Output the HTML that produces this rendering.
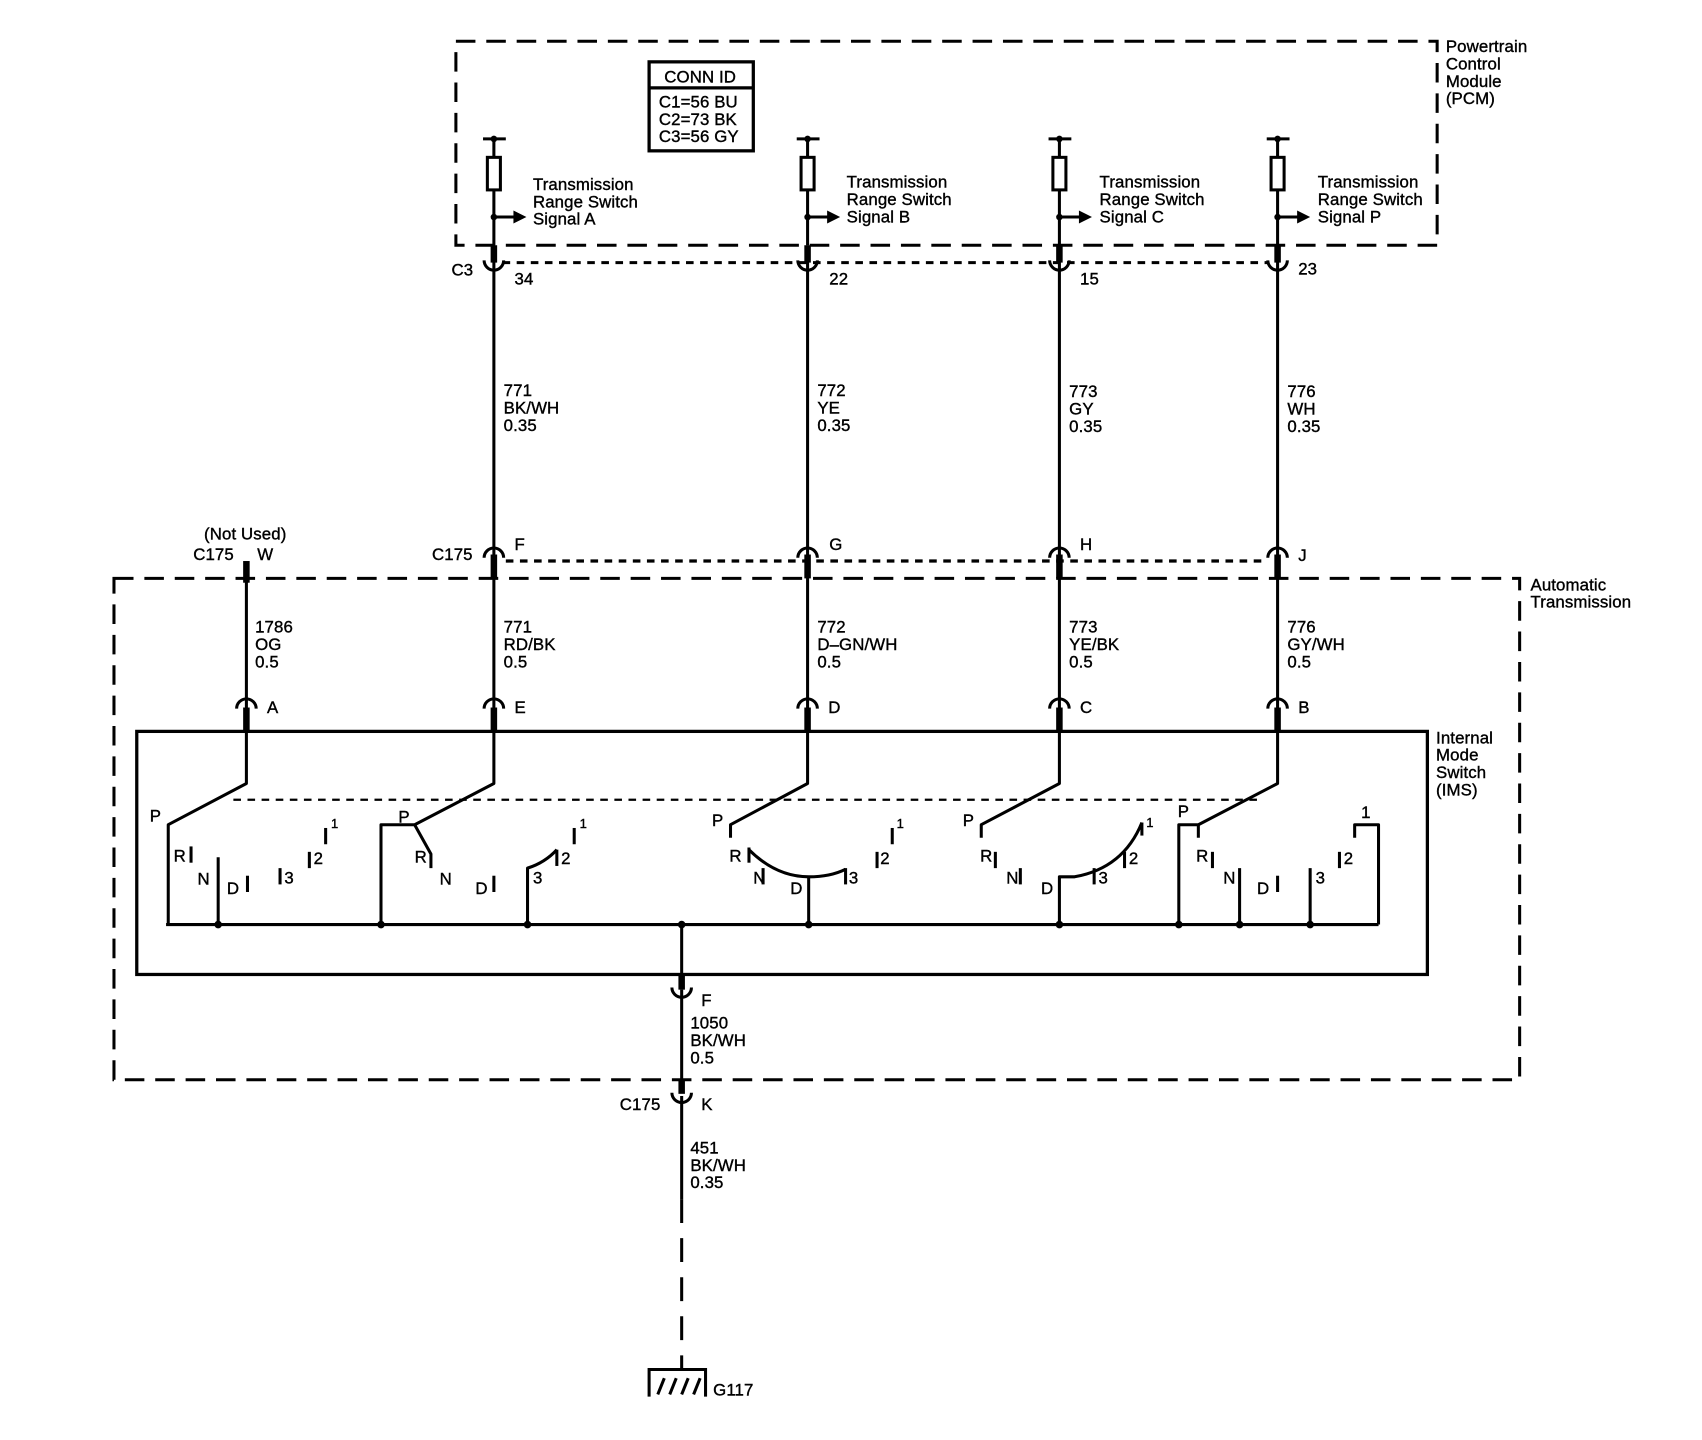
<!DOCTYPE html>
<html><head><meta charset="utf-8"><style>
html,body{margin:0;padding:0;background:#fff;}
svg{display:block;}
text{font-family:"Liberation Sans",sans-serif;font-size:15.5px;fill:#000;letter-spacing:0.1px;stroke:#000;stroke-width:0.35px;}
</style></head><body>
<svg width="1702" height="1440" viewBox="0 0 1568 1327" preserveAspectRatio="none" xmlns="http://www.w3.org/2000/svg">
<g fill="none" stroke="#000" stroke-width="2.8">
<rect x="420" y="38" width="904" height="188" stroke-dasharray="18,10"/>
<rect x="105" y="533" width="1295" height="462" stroke-dasharray="18,10"/>
<rect x="598" y="57" width="96" height="82" stroke-width="3"/>
<line x1="598" y1="81" x2="694" y2="81" stroke-width="3"/>
<rect x="126" y="674" width="1189" height="224" stroke-width="3"/>
<line x1="463" y1="242" x2="1168" y2="242" stroke-dasharray="7,6"/>
<line x1="466" y1="517" x2="1168" y2="517" stroke-dasharray="7,6" stroke-width="3"/>
<line x1="215" y1="737" x2="1160" y2="737" stroke-dasharray="7,6" stroke-width="2"/>
</g>
<g fill="none" stroke="#000" stroke-width="2.8">
<g id="c455">
<line x1="445" y1="128" x2="466" y2="128"/><line x1="455" y1="128" x2="455" y2="145"/>
<rect x="449" y="145" width="12" height="30"/>
<line x1="455" y1="175" x2="455" y2="226"/>
<line x1="455" y1="200" x2="475" y2="200"/>
</g>
<use href="#c455" x="289"/><use href="#c455" x="521"/><use href="#c455" x="722"/>
</g>
<g fill="#000">
<polygon points="473,194 485,200 473,206"/><polygon points="762,194 774,200 762,206"/><polygon points="994,194 1006,200 994,206"/><polygon points="1195,194 1207,200 1195,206"/>
<circle cx="455" cy="128" r="3"/><circle cx="744" cy="128" r="3"/><circle cx="976" cy="128" r="3"/><circle cx="1177" cy="128" r="3"/>
<circle cx="455" cy="200" r="3"/><circle cx="744" cy="200" r="3"/><circle cx="976" cy="200" r="3"/><circle cx="1177" cy="200" r="3"/>
</g>
<g fill="none" stroke="#000">
<g stroke-width="2.8">
<line x1="455" y1="226" x2="455" y2="674"/><line x1="744" y1="226" x2="744" y2="674"/>
<line x1="976" y1="226" x2="976" y2="674"/><line x1="1177" y1="226" x2="1177" y2="674"/>
<line x1="227" y1="520" x2="227" y2="674"/>
</g>
<g stroke-width="6">
<line x1="455" y1="226" x2="455" y2="242"/><line x1="744" y1="226" x2="744" y2="242"/><line x1="976" y1="226" x2="976" y2="242"/><line x1="1177" y1="226" x2="1177" y2="242"/>
<line x1="455" y1="511" x2="455" y2="533"/><line x1="744" y1="511" x2="744" y2="533"/><line x1="976" y1="511" x2="976" y2="533"/><line x1="1177" y1="511" x2="1177" y2="533"/>
<line x1="227" y1="517" x2="227" y2="537"/>
<line x1="227" y1="652" x2="227" y2="674"/><line x1="455" y1="652" x2="455" y2="674"/><line x1="744" y1="652" x2="744" y2="674"/><line x1="976" y1="652" x2="976" y2="674"/><line x1="1177" y1="652" x2="1177" y2="674"/>
<line x1="628" y1="898" x2="628" y2="912"/><line x1="628" y1="995" x2="628" y2="1008"/>
</g>
<g stroke-width="2.8">
<path d="M446 240 A9 9 0 0 0 464 240"/><path d="M735 240 A9 9 0 0 0 753 240"/><path d="M967 240 A9 9 0 0 0 985 240"/><path d="M1168 240 A9 9 0 0 0 1186 240"/>
<path d="M446 514 A9 9 0 0 1 464 514"/><path d="M735 514 A9 9 0 0 1 753 514"/><path d="M967 514 A9 9 0 0 1 985 514"/><path d="M1168 514 A9 9 0 0 1 1186 514"/>
<path d="M218 653 A9 9 0 0 1 236 653"/><path d="M446 653 A9 9 0 0 1 464 653"/><path d="M735 653 A9 9 0 0 1 753 653"/><path d="M967 653 A9 9 0 0 1 985 653"/><path d="M1168 653 A9 9 0 0 1 1186 653"/>
<path d="M619 910 A9 9 0 0 0 637 910"/><path d="M619 1007 A9 9 0 0 0 637 1007"/>
<line x1="628" y1="912" x2="628" y2="995"/>
<line x1="628" y1="1010" x2="628" y2="1105"/>
<line x1="628" y1="1105" x2="628" y2="1262" stroke-dasharray="22,14"/>
<path d="M598 1287 V1262 H650 V1287"/>
<line x1="606" y1="1285" x2="612" y2="1270"/><line x1="617" y1="1285" x2="623" y2="1270"/><line x1="628" y1="1285" x2="634" y2="1270"/><line x1="639" y1="1285" x2="645" y2="1270"/>
</g>
<g stroke-width="2.8" stroke-linejoin="round">
<line x1="628" y1="852" x2="628" y2="898"/>
<line x1="153" y1="852" x2="1270" y2="852"/>
<path d="M227 674 V722 L155 760 V852"/>
<line x1="176" y1="780" x2="176" y2="795"/><line x1="201" y1="790" x2="201" y2="852"/>
<line x1="228" y1="807" x2="228" y2="822"/><line x1="258" y1="800" x2="258" y2="815"/>
<line x1="285" y1="785" x2="285" y2="800"/><line x1="300" y1="763" x2="300" y2="778"/>
<path d="M455 674 V722 L382 760 H351 V852"/>
<path d="M382 760 L397 787 V800"/>
<line x1="455" y1="807" x2="455" y2="822"/>
<path d="M486 852 V800 Q502 795 513 783"/><line x1="513" y1="783" x2="513" y2="798"/>
<line x1="529" y1="763" x2="529" y2="778"/>
<path d="M744 674 V722 L673 760 V772"/>
<line x1="690" y1="781" x2="690" y2="795"/>
<path d="M690 783 Q715 808 745 808 Q765 808 779 801"/>
<line x1="703" y1="800" x2="703" y2="815"/>
<line x1="745" y1="808" x2="745" y2="852"/>
<line x1="779" y1="800" x2="779" y2="815"/><line x1="808" y1="785" x2="808" y2="800"/><line x1="822" y1="763" x2="822" y2="778"/>
<path d="M976 674 V722 L904 760 V772"/>
<line x1="917" y1="785" x2="917" y2="800"/><line x1="940" y1="800" x2="940" y2="815"/>
<path d="M976 852 V808 H990 Q1035 800 1052 758"/>
<line x1="1008" y1="800" x2="1008" y2="815"/><line x1="1036" y1="785" x2="1036" y2="800"/><line x1="1052" y1="758" x2="1052" y2="770"/>
<path d="M1177 674 V722 L1104 760 H1086 V852"/><line x1="1104" y1="760" x2="1104" y2="772"/>
<line x1="1117" y1="785" x2="1117" y2="800"/><line x1="1142" y1="800" x2="1142" y2="852"/>
<line x1="1177" y1="807" x2="1177" y2="822"/><line x1="1207" y1="800" x2="1207" y2="852"/>
<line x1="1234" y1="785" x2="1234" y2="800"/>
<path d="M1248 772 V760 H1270 V852"/>
</g>
</g>
<g fill="#000">
<circle cx="201" cy="852" r="3.5"/><circle cx="351" cy="852" r="3.5"/><circle cx="486" cy="852" r="3.5"/><circle cx="628" cy="852" r="3.5"/><circle cx="745" cy="852" r="3.5"/><circle cx="976" cy="852" r="3.5"/><circle cx="1086" cy="852" r="3.5"/><circle cx="1142" cy="852" r="3.5"/><circle cx="1207" cy="852" r="3.5"/>
</g>
<g>
<text x="612" y="76">CONN ID</text>
<text x="607" y="99">C1=56 BU</text><text x="607" y="115">C2=73 BK</text><text x="607" y="131">C3=56 GY</text>
<text x="1332" y="48">Powertrain</text><text x="1332" y="64">Control</text><text x="1332" y="80">Module</text><text x="1332" y="96">(PCM)</text>
<text x="491" y="175">Transmission</text><text x="491" y="191">Range Switch</text><text x="491" y="207">Signal A</text>
<text x="780" y="173">Transmission</text><text x="780" y="189">Range Switch</text><text x="780" y="205">Signal B</text>
<text x="1013" y="173">Transmission</text><text x="1013" y="189">Range Switch</text><text x="1013" y="205">Signal C</text>
<text x="1214" y="173">Transmission</text><text x="1214" y="189">Range Switch</text><text x="1214" y="205">Signal P</text>
<text x="416" y="254">C3</text><text x="474" y="262">34</text><text x="764" y="262">22</text><text x="995" y="262">15</text><text x="1196" y="253">23</text>
<text x="464" y="365">771</text><text x="464" y="381">BK/WH</text><text x="464" y="397">0.35</text>
<text x="753" y="365">772</text><text x="753" y="381">YE</text><text x="753" y="397">0.35</text>
<text x="985" y="366">773</text><text x="985" y="382">GY</text><text x="985" y="398">0.35</text>
<text x="1186" y="366">776</text><text x="1186" y="382">WH</text><text x="1186" y="398">0.35</text>
<text x="188" y="497">(Not Used)</text><text x="178" y="516">C175</text><text x="237" y="516">W</text>
<text x="398" y="516">C175</text><text x="474" y="507">F</text><text x="764" y="507">G</text><text x="995" y="507">H</text><text x="1196" y="517">J</text>
<text x="1410" y="544">Automatic</text><text x="1410" y="560">Transmission</text>
<text x="235" y="583">1786</text><text x="235" y="599">OG</text><text x="235" y="615">0.5</text>
<text x="464" y="583">771</text><text x="464" y="599">RD/BK</text><text x="464" y="615">0.5</text>
<text x="753" y="583">772</text><text x="753" y="599">D–GN/WH</text><text x="753" y="615">0.5</text>
<text x="985" y="583">773</text><text x="985" y="599">YE/BK</text><text x="985" y="615">0.5</text>
<text x="1186" y="583">776</text><text x="1186" y="599">GY/WH</text><text x="1186" y="615">0.5</text>
<text x="246" y="657">A</text><text x="474" y="657">E</text><text x="763" y="657">D</text><text x="995" y="657">C</text><text x="1196" y="657">B</text>
<text x="1323" y="685">Internal</text><text x="1323" y="701">Mode</text><text x="1323" y="717">Switch</text><text x="1323" y="733">(IMS)</text>
<text x="138" y="757">P</text><text x="160" y="794">R</text><text x="182" y="815">N</text><text x="209" y="824">D</text><text x="262" y="814">3</text><text x="289" y="796">2</text><text x="305" y="763" style="font-size:12px">1</text>
<text x="367" y="758">P</text><text x="382" y="795">R</text><text x="405" y="815">N</text><text x="438" y="824">D</text><text x="491" y="814">3</text><text x="517" y="796">2</text><text x="534" y="763" style="font-size:12px">1</text>
<text x="656" y="761">P</text><text x="672" y="794">R</text><text x="694" y="814">N</text><text x="728" y="824">D</text><text x="782" y="814">3</text><text x="811" y="796">2</text><text x="826" y="763" style="font-size:12px">1</text>
<text x="887" y="761">P</text><text x="903" y="794">R</text><text x="927" y="814">N</text><text x="959" y="824">D</text><text x="1012" y="814">3</text><text x="1040" y="796">2</text><text x="1056" y="762" style="font-size:12px">1</text>
<text x="1085" y="753">P</text><text x="1102" y="794">R</text><text x="1127" y="814">N</text><text x="1158" y="824">D</text><text x="1212" y="814">3</text><text x="1238" y="796">2</text><text x="1254" y="754">1</text>
<text x="646" y="927">F</text>
<text x="636" y="948">1050</text><text x="636" y="964">BK/WH</text><text x="636" y="980">0.5</text>
<text x="571" y="1023">C175</text><text x="646" y="1023">K</text>
<text x="636" y="1063">451</text><text x="636" y="1079">BK/WH</text><text x="636" y="1095">0.35</text>
<text x="657" y="1286">G117</text>
</g>
</svg>
</body></html>
